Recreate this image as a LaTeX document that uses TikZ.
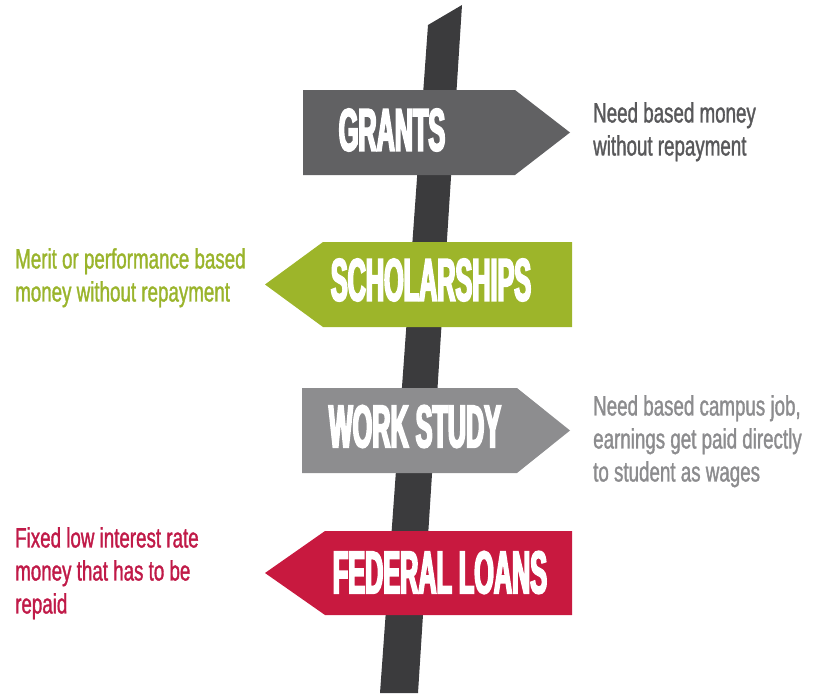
\documentclass[tikz,border=0pt]{standalone}
\usepackage{fontspec}
\setmainfont{Liberation Sans}
\newfontfamily\signfont[FakeStretch=0.42,FakeBold=3]{Liberation Sans Bold}
\newfontfamily\notefont[FakeStretch=0.67,FakeBold=1.2]{Liberation Sans}
\usetikzlibrary{positioning}
\definecolor{pole-color}{HTML}{3B3B3D}
\definecolor{grants-color}{HTML}{616163}
\definecolor{scholar-color}{HTML}{9DB52A}
\definecolor{work-color}{HTML}{8D8D8F}
\definecolor{loans-color}{HTML}{C8193F}
\definecolor{grants-note}{HTML}{58585A}
\definecolor{scholar-note}{HTML}{9AB42C}
\definecolor{work-note}{HTML}{8C8C8E}
\definecolor{loans-note}{HTML}{C01A48}
\tikzset{
  board/.style={fill=#1, draw=none},
  sign text/.style={text=white, inner sep=0pt, font=\signfont\fontsize{60}{60}\selectfont},
  note/.style={text=#1, inner sep=0pt, align=left, anchor=north west,
    font=\notefont\fontsize{28}{33}\selectfont}
}
\begin{document}
\begin{tikzpicture}[x=1pt,y=-1pt]
  \useasboundingbox (0,0) rectangle (824,693);
  % the post
  \fill[pole-color] (428,25) -- (462,5) -- (418,693) -- (380,693) -- cycle;
  % the four boards
  \fill[board=grants-color] (303,90) -- (515,90) -- (570,132.5) -- (515,175) -- (303,175) -- cycle;
  \fill[board=scholar-color] (572,242) -- (323,242) -- (265,284.5) -- (323,327) -- (572,327) -- cycle;
  \fill[board=work-color] (302,388) -- (517,388) -- (570,430.5) -- (517,473) -- (302,473) -- cycle;
  \fill[board=loans-color] (572,531) -- (325,531) -- (265,573) -- (325,615) -- (572,615) -- cycle;
  \node[sign text] (grants text) at (392,130) {GRANTS};
  \node[sign text] (scholar text) at (431,280) {SCHOLARSHIPS};
  \node[sign text] (work text) at (415,426.5) {WORK STUDY};
  \node[sign text] (loans text) at (440,572.5) {FEDERAL LOANS};
  % side notes
  \node[note=grants-note] (grants note) at (593,102) {Need based money\\without repayment};
  \node[note=scholar-note] (scholar note) at (15,248) {Merit or performance based\\money without repayment};
  \node[note=work-note] (work note) at (593,395) {Need based campus job,\\earnings get paid directly\\to student as wages};
  \node[note=loans-note] (loans note) at (15,527) {Fixed low interest rate\\money that has to be\\repaid};
\end{tikzpicture}
\end{document}
